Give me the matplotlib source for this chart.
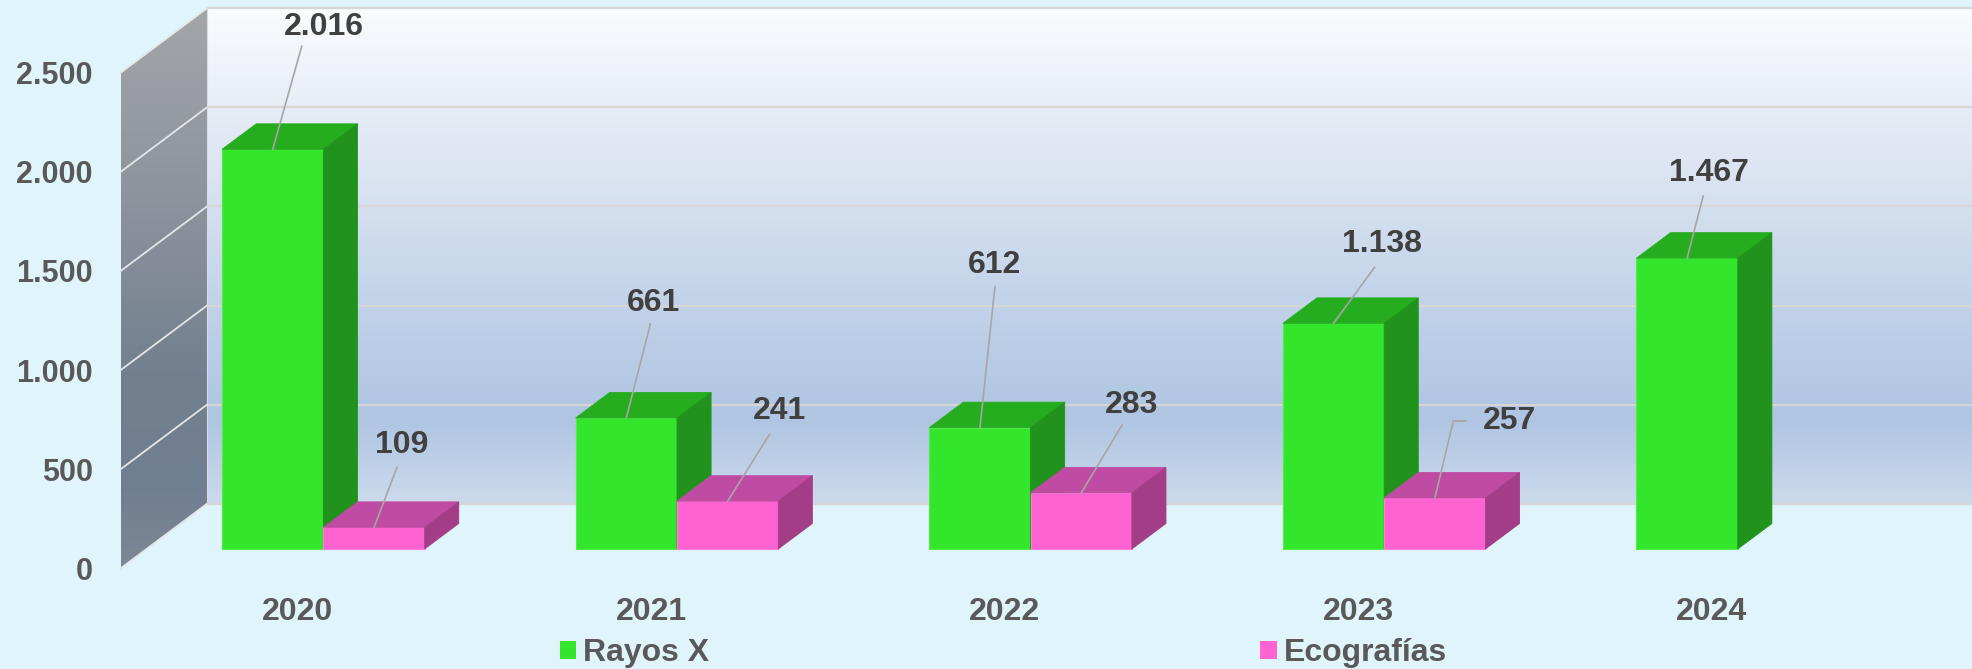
import numpy as np
import matplotlib
matplotlib.use("Agg")
import matplotlib.pyplot as plt
from matplotlib.patches import Polygon, Patch
from matplotlib.colors import LinearSegmentedColormap

# ---------------- data ----------------
years = ["2020", "2021", "2022", "2023", "2024"]
rayos_x = [2016, 661, 612, 1138, 1467]
ecografias = [109, 241, 283, 257, np.nan]
series_names = ["Rayos X", "Ecografías"]
y_ticks = [0, 500, 1000, 1500, 2000, 2500]

# ---------------- style / layout ----------------
plt.rcParams["font.family"] = ["Liberation Sans", "DejaVu Sans"]
plt.rcParams["font.weight"] = "bold"

W, H = 1972, 669
BG = "#E0F4FB"
GREEN = ("#33E62B", "#26AD1F", "#21931C", "#55EA4E")   # front, top, side, edge
PINK = ("#FF63D2", "#C04BA3", "#A33D87", "#FF7ED9")
TXT = "#595959"
LBL = "#404040"
FS_TICK = 22
FS = 23

fig = plt.figure(figsize=(W / 100, H / 100), dpi=100, facecolor=BG)
# front plane of the 3D box
ax_l, ax_b, ax_w, ax_h = 120.7, 568.3, 1768.0, 495.6   # pixels (left, bottom-from-top, width, height)
ax = fig.add_axes([ax_l / W, (H - ax_b) / H, ax_w / W, ax_h / H])
ax.set_facecolor("none")
for sp in ax.spines.values():
    sp.set_visible(False)
XMIN, XMAX, YMAX = -0.5, 4.5, 2500
ax.set_xlim(XMIN, XMAX)
ax.set_ylim(0, YMAX)

px_x = ax_w / (XMAX - XMIN)
px_y = ax_h / YMAX
DX = 86.3 / px_x          # full depth vector in data units
DY = 64.5 / px_y

# ---------------- walls ----------------
def vgrad(colors, n=256):
    cm = LinearSegmentedColormap.from_list("g", colors)
    return cm(np.linspace(0, 1, n))[:, None, :3]

back_cols = [(0.0, "#FAFCFE"), (0.2, "#E7EDF6"), (0.4, "#D5E0EF"), (0.6, "#C1D2E9"),
             (0.83, "#AFC5E2"), (1.0, "#CCDAEC")]
im = ax.imshow(vgrad(back_cols), extent=[XMIN + DX, XMAX + DX, DY, YMAX + DY],
               aspect="auto", interpolation="bicubic", zorder=0, clip_on=False)

left_poly = Polygon([(XMIN, 0), (XMIN + DX, DY), (XMIN + DX, YMAX + DY), (XMIN, YMAX)],
                    closed=True, transform=ax.transData)
left_cols = [(0.0, "#A4A6A9"), (0.35, "#8C939D"), (0.65, "#74808F"), (0.85, "#6F7E91"),
             (1.0, "#7D8793")]
im2 = ax.imshow(vgrad(left_cols), extent=[XMIN, XMIN + DX, 0, YMAX + DY],
                aspect="auto", interpolation="bicubic", zorder=0)
im2.set_clip_path(left_poly)
im2.set_clip_box(fig.bbox)

# back wall grid lines
for v in y_ticks:
    ax.plot([XMIN + DX, XMAX + DX], [v + DY, v + DY], color="#D6D6D6", lw=1.6,
            zorder=1, clip_on=False, solid_capstyle="butt")
# left wall grid lines
for v in y_ticks:
    ax.plot([XMIN, XMIN + DX], [v, v + DY], color="#E4E6E8", lw=1.3, zorder=1,
            clip_on=False)
ax.plot([XMIN + DX, XMIN + DX], [DY, YMAX + DY], color="#D8DCE0", lw=0.8, zorder=1,
        clip_on=False)

ax.set_xlim(XMIN, XMAX)
ax.set_ylim(0, YMAX)

# ---------------- bars ----------------
F0, FD = 0.30, 0.395          # front position and thickness of bars (fraction of depth)
BW = 101.3 / px_x
bx, by = FD * DX, FD * DY
x = np.arange(len(years))
anchors = []
for s, (vals, col) in enumerate([(rayos_x, GREEN), (ecografias, PINK)]):
    vals = np.asarray(vals, dtype=float)
    ok = ~np.isnan(vals)
    xl = x - BW + s * BW + F0 * DX
    b0 = F0 * DY
    z = 3 + s
    ax.bar(xl[ok], vals[ok], width=BW, bottom=b0, align="edge", color=col[0],
           edgecolor=col[3], linewidth=0.8, clip_on=False, zorder=z)
    for xi, v in zip(xl[ok], vals[ok]):
        top = [(xi, v + b0), (xi + BW, v + b0), (xi + BW + bx, v + b0 + by), (xi + bx, v + b0 + by)]
        side = [(xi + BW, b0), (xi + BW + bx, b0 + by), (xi + BW + bx, v + b0 + by), (xi + BW, v + b0)]
        ax.add_patch(Polygon(top, closed=True, facecolor=col[1], edgecolor=col[1],
                             lw=0.6, zorder=z, clip_on=False))
        ax.add_patch(Polygon(side, closed=True, facecolor=col[2], edgecolor=col[2],
                             lw=0.6, zorder=z, clip_on=False))
    anchors.append([(xi + BW / 2, v + b0) if not np.isnan(v) else None
                    for xi, v in zip(xl, vals)])

# ---------------- data labels with leader lines ----------------
label_off = [[(51, 122), (27, 115), (15, 163), (48, 79), (22, 85)],
             [(28, 82), (52, 90), (50, 88), (74.5, 77), None]]
leader_pts = [[[(-22, -19)], [(-3, -21)], [(0, -22)], [(-7, -23)], [(-6, -23)]],
              [[(-5, -22)], [(-10, -23)], [(-9, -20)], [(-56, 0), (-43, 0)], None]]
inv = ax.transData.inverted()
for s, vals in enumerate([rayos_x, ecografias]):
    for i, v in enumerate(vals):
        if anchors[s][i] is None or np.isnan(v):
            continue
        a = np.array(anchors[s][i])
        ox, oy = label_off[s][i]
        txt = f"{int(v):,}".replace(",", ".")
        ax.annotate(txt, xy=a, xytext=(ox, oy), textcoords="offset pixels",
                    ha="center", va="center", fontsize=FS, color=LBL,
                    fontweight="bold", zorder=6, annotation_clip=False)
        apx = ax.transData.transform(a)
        lpx = apx + np.array([ox, oy])
        pts = [apx] + [lpx + np.array(p) for p in leader_pts[s][i]]
        dpts = inv.transform(np.array(pts))
        ax.plot(dpts[:, 0], dpts[:, 1], color="#A6A6A6", lw=1.2, zorder=5, clip_on=False)

# ---------------- axes text ----------------
ax.set_yticks(y_ticks, [f"{t:,}".replace(",", ".") for t in y_ticks])
ax.set_xticks(x, years)
ax.tick_params(axis="y", length=0, pad=28 * 0.72, labelsize=FS_TICK, labelcolor=TXT)
ax.tick_params(axis="x", length=0, pad=29 * 0.72, labelsize=FS, labelcolor=TXT)
for lab in ax.get_xticklabels() + ax.get_yticklabels():
    lab.set_fontweight("bold")

handles = [Patch(facecolor=GREEN[0], edgecolor="none"), Patch(facecolor=PINK[0], edgecolor="none")]
fig.legend(handles, series_names, loc="center left", bbox_to_anchor=(560 / W, (H - 653.5) / H),
           ncol=2, frameon=False, borderpad=0, borderaxespad=0, handlelength=0.51,
           handleheight=0.51, handletextpad=0.22, columnspacing=17.25,
           labelcolor=TXT, prop={"weight": "bold", "size": FS})

fig.savefig("out.png", dpi=100, facecolor=BG)
